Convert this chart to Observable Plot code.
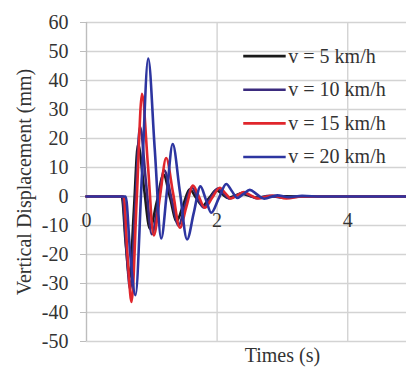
<!DOCTYPE html>
<html><head><meta charset="utf-8">
<script src="https://cdn.jsdelivr.net/npm/d3@7"></script>
<script src="https://cdn.jsdelivr.net/npm/@observablehq/plot@0.6"></script>
<style>
html,body{margin:0;padding:0;background:#fff;}
</style>
</head><body><div id="chart"></div>
<script>
const seriesNames = ["v = 5 km/h", "v = 10 km/h", "v = 15 km/h", "v = 20 km/h"];
const seriesColors = ["#1a1a1a", "#3b2b7e", "#e0262c", "#2d35a0"];

const time5 = [0, 0.54, 0.60, 0.66, 0.725, 0.79, 0.88, 0.97, 1.075, 1.18, 1.28, 1.38, 1.48, 1.58, 1.68, 1.78, 1.88, 1.99, 2.08, 2.17, 2.28, 2.37, 2.5, 2.6, 2.8, 3.3, 4.9];
const disp5 = [0, 0, -16, -28, -5, 18, 3, -11, -2, 7.5, -0.5, -8.5, -3, 2.5, -0.5, -3.2, -0.5, 2.2, 0.8, -0.5, 0.3, 1.0, 0.2, -0.4, 0.1, 0, 0];

const time10 = [0, 0.55, 0.61, 0.67, 0.745, 0.82, 0.91, 1.0, 1.1, 1.19, 1.3, 1.41, 1.51, 1.61, 1.7, 1.79, 1.9, 2.01, 2.1, 2.19, 2.3, 2.39, 2.5, 2.6, 2.8, 3.0, 3.3, 4.9];
const disp10 = [0, 0, -18, -32, -4, 24, 5, -13, -2, 9, -0.5, -10, -3, 3.2, -0.3, -3.8, -0.5, 2.7, 1, -0.7, 0.4, 1.3, 0.3, -0.6, 0.2, -0.4, 0, 0];

const time15 = [0, 0.57, 0.63, 0.69, 0.77, 0.85, 0.94, 1.03, 1.125, 1.22, 1.325, 1.43, 1.53, 1.63, 1.72, 1.81, 1.925, 2.04, 2.125, 2.21, 2.31, 2.41, 2.515, 2.62, 2.85, 3.06, 3.3, 4.9];
const disp15 = [0, 0, -21, -36.4, -0.5, 35.4, 11, -13.4, 0, 13.3, 1.25, -10.8, -3.5, 3.8, 0, -3.9, -0.45, 3.0, 1.15, -0.7, 0.4, 1.5, 0.4, -0.7, 0.3, -0.7, 0, 0];

const time20 = [0, 0.60, 0.67, 0.75, 0.8475, 0.945, 1.0445, 1.144, 1.232, 1.32, 1.43, 1.54, 1.6425, 1.745, 1.8275, 1.91, 2.025, 2.14, 2.225, 2.31, 2.405, 2.5, 2.61, 2.72, 2.92, 3.1, 3.3, 3.6, 4.9];
const disp20 = [0, 0, -20, -34, 6.8, 47.6, 16.5, -14.5, 1.8, 18.1, 1.65, -14.8, -5.65, 3.5, -1.05, -5.6, -0.65, 4.3, 1.9, -0.5, 0.9, 2.3, 0.75, -0.8, 0.4, -0.2, 0.2, 0, 0];

const yTicks = [-50, -40, -30, -20, -10, 0, 10, 20, 30, 40, 50, 60];
const xTickLabels = [0, 2, 4];
const xGrid = [2, 4];

const times = [time5, time10, time15, time20];
const disps = [disp5, disp10, disp15, disp20];
const rows = [];
seriesNames.forEach((name, i) => {
  times[i].forEach((t, j) => rows.push({series: name, t, d: disps[i][j]}));
});

const legendRows = seriesNames.map((name, i) => ({series: name, y: 48.4 - i * 11.6}));
const FONT = "Liberation Serif";

const plot = Plot.plot({
  width: 406, height: 368,
  marginLeft: 86, marginRight: 0, marginTop: 22, marginBottom: 27,
  x: {domain: [0, 4.9], axis: null},
  y: {domain: [-50, 60], axis: null},
  color: {domain: seriesNames, range: seriesColors},
  style: {fontFamily: FONT, fontSize: "20px", color: "#333", background: "#fff"},
  marks: [
    Plot.gridY(yTicks, {stroke: "#d3d3d3", strokeOpacity: 1, strokeWidth: 1.4}),
    Plot.gridX(xGrid, {stroke: "#d3d3d3", strokeOpacity: 1, strokeWidth: 1.4}),
    Plot.ruleX([0], {stroke: "#bdbdbd", strokeWidth: 1.4}),
    Plot.axisY(yTicks, {tickSize: 6, tickPadding: 12, stroke: "#bdbdbd", fill: "#333", label: null, fontSize: 20, fontFamily: FONT, tickFormat: d => String(d)}),
    Plot.text(xTickLabels, {x: d => d, y: 0, dy: 24, text: d => String(d), fill: "#333", fontSize: 20, fontFamily: FONT}),
    Plot.line(rows, {x: "t", y: "d", z: "series", stroke: "series", strokeWidth: 2.6, curve: "monotone-x"}),
    Plot.link(legendRows, {x1: 2.40, x2: 3.05, y1: "y", y2: "y", stroke: "series", strokeWidth: 2.6}),
    Plot.text(legendRows, {x: 3.09, y: "y", text: "series", textAnchor: "start", fill: "#333", fontSize: 20, fontFamily: FONT}),
    Plot.text(["Vertical Displacement (mm)"], {frameAnchor: "left", y: 5, rotate: -90, dx: -62, textAnchor: "middle", lineAnchor: "middle", text: d => d, fill: "#333", fontSize: 20, fontFamily: FONT}),
    Plot.text(["Times (s)"], {frameAnchor: "bottom", x: 3.0, dy: 14, lineAnchor: "middle", textAnchor: "middle", text: d => d, fill: "#333", fontSize: 20, fontFamily: FONT})
  ]
});
document.getElementById("chart").appendChild(plot);
</script>
</body></html>
